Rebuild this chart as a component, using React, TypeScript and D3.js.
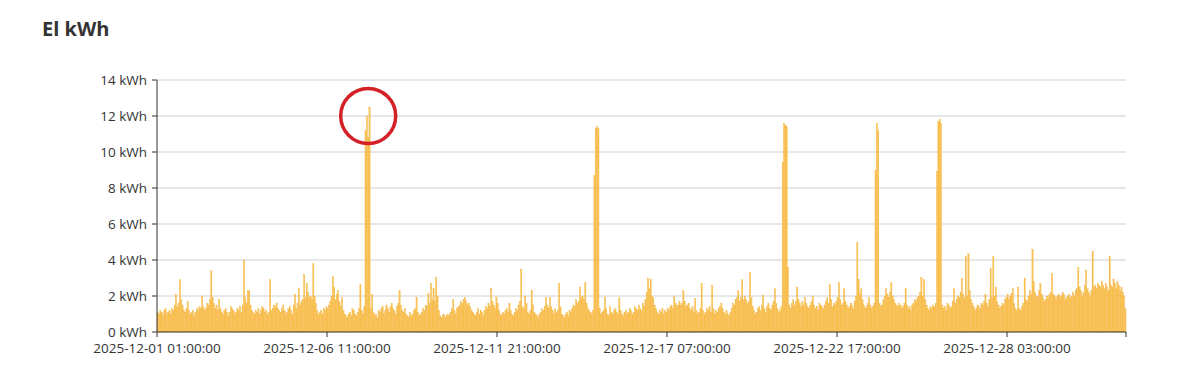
import React from "react";
import * as d3 from "d3";

// Hourly consumption (kWh) from 2025-12-01 01:00, one value per hour
const values: number[] = [
  1.1, 1.0, 1.2, 1.1, 0.9, 1.2, 1.3, 1.0, 1.1, 1.2,
  1.0, 1.3, 1.2, 1.5, 2.1, 1.4, 1.6, 2.9, 1.8, 1.5,
  1.2, 1.1, 1.3, 1.7, 1.2, 1.0, 1.1, 1.2, 0.9, 1.1,
  1.3, 1.2, 1.4, 1.3, 2.0, 1.4, 1.2, 1.3, 1.6, 1.5,
  1.8, 3.4, 1.9, 1.6, 1.3, 1.5, 1.2, 1.8, 1.3, 1.1,
  1.0, 1.2, 1.3, 1.1, 0.9, 1.1, 1.4, 1.3, 1.2, 1.0,
  1.1, 1.3, 1.2, 1.4, 1.1, 1.5, 4.0, 1.9, 1.6, 2.3,
  2.3, 1.5, 1.2, 1.1, 1.0, 1.2, 1.1, 1.3, 1.0, 1.2,
  1.4, 1.3, 1.1, 1.2, 1.0, 1.1, 2.9, 1.2, 1.3, 1.5,
  1.4, 1.6, 1.3, 1.2, 1.1, 1.3, 1.5, 1.2, 1.0, 1.1,
  1.3, 1.4, 1.2, 1.0, 1.5, 2.1, 1.3, 1.6, 2.4, 1.5,
  1.7, 1.8, 3.2, 1.9, 2.7, 2.2, 1.9, 2.0, 1.8, 3.8,
  2.0, 1.6, 1.2, 1.0, 1.1, 1.2, 1.0, 1.3, 1.2, 1.4,
  1.3, 1.5, 1.7, 2.0, 3.1, 2.5, 1.8, 2.1, 2.3, 1.7,
  1.4, 1.9, 1.2, 1.0, 0.9, 0.8, 1.0, 1.1, 0.9, 1.3,
  1.2, 1.0, 0.9, 1.1, 1.3, 2.65, 1.2, 1.0, 1.4, 11.2,
  12.0, 10.8, 12.5, 1.3, 2.1, 1.1, 0.9, 1.0, 0.8, 1.2,
  1.1, 1.3, 1.4, 1.0, 1.2, 1.5, 1.3, 1.1, 1.4, 1.6,
  1.3, 1.2, 1.0, 1.4, 1.6, 2.3, 1.5, 1.2, 1.1, 1.3,
  1.0, 0.9, 0.8, 1.1, 0.9, 1.0, 1.2, 1.3, 1.9, 1.1,
  0.9, 1.0, 1.1, 1.3, 1.2, 1.5, 1.4, 2.15, 1.6, 2.7,
  1.8, 2.4, 1.7, 3.05, 2.0, 1.2, 0.9, 0.8, 0.9, 1.0,
  0.8, 0.9, 1.0, 0.9, 1.1, 1.3, 1.8, 1.2, 1.0, 1.3,
  1.4, 1.5, 1.7, 1.6, 1.8, 1.9, 1.7, 1.5, 1.6, 1.4,
  1.2, 1.1, 1.0, 0.9, 1.1, 1.3, 1.0, 1.2, 1.1, 0.9,
  1.2, 1.4, 1.3, 1.6, 1.4, 2.45, 1.7, 1.5, 1.3, 1.95,
  1.6, 1.2, 1.0, 0.9, 1.1, 1.0, 1.2, 1.3, 1.1, 1.6,
  1.2, 1.0, 0.9, 1.1, 1.3, 1.2, 1.5, 1.7, 3.5, 1.4,
  1.3, 2.0, 1.6, 1.1, 1.0, 1.2, 2.3, 1.5, 1.1, 1.0,
  0.9, 0.8, 1.0, 1.1, 1.3, 1.2, 1.4, 1.9, 1.5, 1.3,
  1.9, 1.4, 1.2, 1.0, 1.3, 1.1, 1.2, 2.7, 1.4, 1.0,
  0.9, 0.8, 1.0, 1.1, 0.9, 1.2, 1.1, 1.3, 1.5, 1.4,
  1.8, 1.6, 1.7, 2.5, 1.9, 2.0, 1.8, 2.75, 1.6, 1.3,
  1.2, 1.1, 1.0, 1.2, 8.7, 11.3, 11.4, 11.3, 1.3, 1.0,
  1.1, 1.2, 1.95, 1.3, 1.0, 0.9, 1.4, 1.1, 1.0, 1.2,
  1.3, 1.1, 1.0, 1.9, 1.2, 1.0, 0.9, 1.1, 1.2, 1.0,
  1.1, 1.3, 1.2, 1.0, 1.1, 1.4, 1.3, 1.2, 1.5, 1.3,
  1.2, 1.6, 1.4, 1.8, 2.2, 3.0, 2.4, 2.95, 2.0, 1.9,
  1.5, 1.3, 1.1, 1.0, 1.2, 1.1, 1.3, 1.0, 1.2, 1.1,
  1.3, 1.2, 1.4, 1.5, 1.3, 2.0, 1.6, 1.4, 1.5, 1.7,
  1.5, 1.6, 2.3, 1.7, 1.4, 1.5, 1.6, 1.3, 1.2, 1.4,
  1.1, 1.85, 1.2, 1.0, 1.1, 1.3, 2.7, 1.2, 1.0, 1.1,
  1.3, 1.2, 1.4, 1.1, 2.6, 1.3, 1.0, 1.2, 1.1, 1.3,
  1.4, 1.6, 1.3, 1.1, 1.0, 1.2, 1.0, 0.9, 1.1, 1.3,
  1.6, 1.5, 1.8, 1.9, 2.3, 1.7, 1.9, 2.9, 1.8, 2.0,
  1.8, 1.6, 1.7, 3.3, 1.9, 1.4, 1.2, 1.0, 1.1, 1.3,
  1.4, 1.2, 1.5, 2.05, 1.3, 1.1, 1.4, 1.6, 1.3, 1.2,
  1.5, 1.7, 2.4, 1.6, 1.3, 1.1, 1.2, 1.4, 9.4, 11.6,
  11.5, 11.4, 3.6, 1.5, 1.3, 1.6, 1.8, 1.5, 1.7, 2.5,
  1.8, 1.6, 1.4, 1.7, 1.5, 1.9, 1.6, 1.4, 1.3, 1.5,
  1.7, 2.0, 1.5, 1.3, 1.4, 1.2, 1.6, 1.5, 1.4, 1.3,
  1.5, 1.7, 1.9, 1.6, 2.65, 1.8, 1.4, 1.6, 1.5, 1.7,
  1.9, 2.75, 1.8, 1.5, 1.6, 2.4, 1.7, 1.5, 1.3, 1.4,
  1.6, 1.5, 1.3, 1.7, 2.0, 5.0, 2.9, 2.1, 2.4, 1.8,
  1.5, 1.3, 1.4, 1.6, 1.9, 1.5, 1.3, 1.4, 1.6, 9.0,
  11.6, 11.2, 1.6, 1.4, 1.5, 1.8, 2.0, 2.4, 2.1, 1.9,
  2.2, 2.75, 2.0, 1.8, 1.6, 1.5, 1.4, 1.6, 1.5, 1.3,
  1.4, 1.6, 2.4, 1.5, 1.3, 1.4, 1.2, 1.5, 1.6, 1.8,
  1.7, 1.9, 2.0, 2.2, 3.05, 2.0, 2.9, 1.8, 1.5, 1.3,
  1.2, 1.4, 1.3, 1.5, 1.4, 1.6, 8.9, 11.7, 11.8, 11.6,
  1.5, 1.3, 1.4, 1.2, 1.6, 1.5, 1.3, 1.4, 1.7, 2.4,
  1.6, 1.8, 2.0, 1.9, 2.2, 3.0, 2.1, 1.9, 4.2, 2.0,
  4.35, 2.3, 1.8, 1.6, 1.4, 1.2, 1.3, 1.5, 1.4, 1.3,
  1.6, 1.5, 1.7, 2.1, 1.6, 1.4, 1.8, 3.55, 1.9, 4.2,
  2.0, 2.5, 1.7, 1.5, 1.3, 1.4, 1.6, 1.5, 1.8, 1.9,
  2.1, 1.8, 2.0, 2.15, 2.4, 1.6, 1.3, 1.2, 2.5, 1.3,
  1.2, 1.4, 1.6, 3.0, 1.8, 1.7, 2.0, 2.3, 2.1, 4.6,
  2.8, 2.2, 2.0, 1.9, 2.3, 2.7, 2.1, 1.9, 1.7, 1.8,
  2.0, 1.9, 2.1, 2.2, 3.25, 2.1, 2.0, 1.8, 2.0, 2.1,
  1.9, 2.0, 2.2, 2.1, 1.8, 1.9, 2.0, 2.1, 1.9, 2.0,
  2.2, 2.0, 2.3, 2.4, 3.6, 2.5, 2.3, 2.0, 2.2, 2.6,
  3.45, 2.4, 2.2, 2.0, 2.3, 4.5, 2.5, 2.6, 2.4, 2.7,
  2.6, 2.5, 2.8, 2.6, 2.4, 2.7, 2.5, 2.3, 4.2, 2.6,
  2.5, 2.95, 2.7, 2.4, 2.8, 2.6, 2.3, 2.5, 2.2, 2.0,
  1.3,
];

const yTicks: number[] = [0, 2, 4, 6, 8, 10, 12, 14];
const xTickIndex: number[] = [0, 130, 260, 390, 520, 650];
const xTickLabels: string[] = [
  "2025-12-01 01:00:00",
  "2025-12-06 11:00:00",
  "2025-12-11 21:00:00",
  "2025-12-17 07:00:00",
  "2025-12-22 17:00:00",
  "2025-12-28 03:00:00",
];
const title = "El kWh";
const highlightIndex = 161;
const highlightValue = 12;

const W = 1189;
const H = 374;
const M = { left: 157, right: 1126, top: 80, bottom: 332 };
const FONT = "'Open Sans', 'Noto Sans', sans-serif";

export default function App() {
  const n = values.length;
  const x = d3.scaleLinear().domain([0, n]).range([M.left, M.right]);
  const y = d3.scaleLinear().domain([0, 14]).range([M.bottom, M.top]);
  const step = x(1) - x(0);

  return (
    <svg
      width={W}
      height={H}
      style={{ position: "absolute", left: 0, top: 0, background: "#fff" }}
    >
      <text x={42} y={36} fontFamily={FONT} fontWeight={700} fontSize={20} fill="#333">
        {title}
      </text>
      {yTicks.map((t) => (
        <g key={t}>
          {t > 0 && (
            <line x1={M.left} x2={M.right} y1={y(t)} y2={y(t)} stroke="#cfcfcf" strokeWidth={1} />
          )}
          <line x1={M.left - 5} x2={M.left} y1={y(t)} y2={y(t)} stroke="#333" strokeWidth={1} />
          <text
            x={M.left - 10}
            y={y(t)}
            textAnchor="end"
            dominantBaseline="central"
            fontFamily={FONT}
            fontSize={13.5}
            fill="#333"
          >
            {`${t} kWh`}
          </text>
        </g>
      ))}
      <g>
        {values.map((v, i) => (
          <rect
            key={i}
            x={x(i)}
            width={step + 0.05}
            y={y(v)}
            height={y(0) - y(v)}
            fill="#f9c152"
            stroke="#f3b540"
            strokeWidth={0.25}
          />
        ))}
      </g>
      <line x1={M.left} x2={M.left} y1={M.top} y2={M.bottom} stroke="#333" strokeWidth={1} />
      <line x1={M.left} x2={M.right} y1={M.bottom} y2={M.bottom} stroke="#333" strokeWidth={1} />
      {xTickIndex.map((ti, k) => (
        <g key={ti}>
          <line x1={x(ti)} x2={x(ti)} y1={M.bottom} y2={M.bottom + 5} stroke="#333" strokeWidth={1} />
          <text
            x={x(ti)}
            y={353}
            textAnchor="middle"
            fontFamily={FONT}
            fontSize={13.5}
            fill="#333"
          >
            {xTickLabels[k]}
          </text>
        </g>
      ))}
      <line x1={M.right} x2={M.right} y1={M.bottom} y2={M.bottom + 5} stroke="#333" strokeWidth={1} />
      <circle
        cx={x(highlightIndex + 0.5)}
        cy={y(highlightValue)}
        r={27.5}
        fill="none"
        stroke="#d42027"
        strokeWidth={3.5}
      />
    </svg>
  );
}
